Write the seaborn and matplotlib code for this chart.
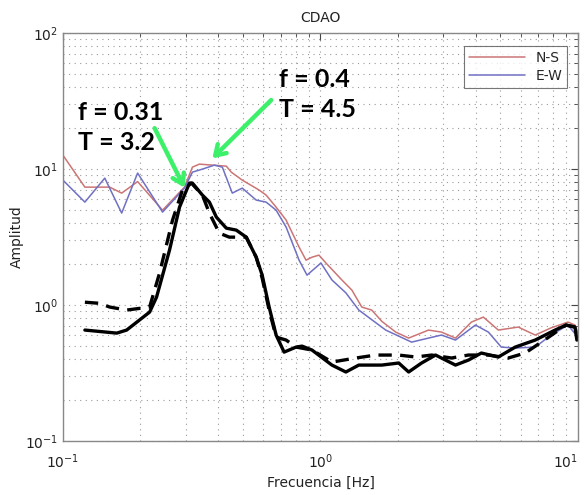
import numpy as np
import pandas as pd
import matplotlib
matplotlib.use("Agg")
import matplotlib.pyplot as plt
import seaborn as sns
from matplotlib.ticker import LogLocator, NullFormatter

# ---------------- data ----------------
ns_freq = [0.1, 0.1217, 0.152, 0.1691, 0.195, 0.2437, 0.2965, 0.3183, 0.3388, 0.4309,
           0.4506, 0.497, 0.5782, 0.6153, 0.6728, 0.7355, 0.826, 0.8788, 0.9271, 0.9867,
           1.05, 1.211, 1.324, 1.447, 1.582, 1.73, 1.96, 2.2, 2.629, 2.951, 3.344, 3.856,
           4.291, 4.904, 5.861, 6.82, 7.863, 9.149, 9.737, 10.0]
ns_amp = [12.67, 7.37, 7.37, 6.66, 8.1, 4.99, 7.37, 10.34, 10.88, 10.52,
          9.5, 8.3, 7.01, 6.44, 5.25, 4.22, 2.67, 2.14, 2.25, 2.33,
          2.04, 1.53, 1.29, 0.967, 0.919, 0.76, 0.633, 0.572, 0.655, 0.633, 0.572, 0.75,
          0.816, 0.655, 0.689, 0.602, 0.68, 0.75, 0.713, 0.62]

ew_freq = [0.1, 0.1217, 0.1454, 0.1691, 0.195, 0.2437, 0.2965, 0.3183, 0.348, 0.3873,
           0.4159, 0.4546, 0.497, 0.563, 0.6153, 0.6728, 0.7355, 0.826, 0.8867, 1.0044,
           1.108, 1.255, 1.409, 1.792, 2.259, 2.629, 2.951, 3.344, 3.996, 4.487,
           5.037, 5.706, 6.82, 7.863, 9.149, 9.824, 10.0]
ew_amp = [8.3, 5.72, 8.59, 4.75, 9.35, 4.83, 7.25, 9.5, 10.0, 10.7,
          10.34, 6.66, 7.25, 5.92, 5.72, 4.99, 3.75, 2.14, 1.66, 2.04,
          1.53, 1.23, 0.919, 0.655, 0.534, 0.572, 0.602, 0.553, 0.713, 0.633,
          0.491, 0.483, 0.491, 0.602, 0.713, 0.602, 0.56]

solid_freq = [0.1217, 0.1618, 0.1768, 0.2171, 0.231, 0.2594, 0.2836, 0.3099, 0.3183, 0.348,
              0.3704, 0.3942, 0.4309, 0.4711, 0.515, 0.563, 0.5939, 0.632, 0.6728, 0.7225,
              0.8043, 0.8483, 0.9271, 1.108, 1.255, 1.409, 1.73, 2.013, 2.2, 2.47,
              2.798, 3.344, 3.754, 4.215, 4.904, 5.706, 6.82, 8.147, 8.985, 9.737, 9.9]
solid_amp = [0.655, 0.622, 0.655, 0.888, 1.145, 2.54, 5.25, 7.89, 7.89, 6.44,
             5.72, 4.44, 3.68, 3.56, 3.16, 2.25, 1.66, 0.967, 0.602, 0.451,
             0.491, 0.499, 0.467, 0.362, 0.322, 0.362, 0.362, 0.375, 0.322, 0.375,
             0.429, 0.362, 0.394, 0.444, 0.415, 0.491, 0.553, 0.655, 0.713, 0.689, 0.553]

dash_freq = [0.1217, 0.139, 0.152, 0.1768, 0.2171, 0.2373, 0.2665, 0.2912, 0.3155, 0.348,
             0.3704, 0.4049, 0.4426, 0.515, 0.563, 0.5939, 0.632, 0.6728, 0.7355, 0.8043,
             0.9271, 1.108, 1.372, 1.64, 2.013, 2.341, 2.7, 3.227, 3.754, 4.487,
             5.361, 6.237, 7.6, 8.985, 9.737]
dash_amp = [1.05, 1.03, 0.967, 0.919, 0.967, 1.72, 4.22, 7.01, 7.89, 6.44,
            4.75, 3.38, 3.16, 3.16, 2.25, 1.58, 0.919, 0.582, 0.553, 0.491,
            0.467, 0.381, 0.408, 0.429, 0.429, 0.415, 0.429, 0.408, 0.429, 0.429,
            0.408, 0.444, 0.572, 0.713, 0.689]

series_labels = ["N-S", "E-W"]
title = "CDAO"
xlabel = "Frecuencia [Hz]"
ylabel = "Amplitud"
ann1_text = "f = 0.31\nT = 3.2"
ann2_text = "f = 0.4\nT = 4.5"
ann1_tip, ann1_tail, ann1_pos = (0.2965, 7.3), (0.227, 20.0), (0.1143, 31.5)
ann2_tip, ann2_tail, ann2_pos = (0.3804, 12.0), (0.6436, 32.2), (0.691, 55.0)

# ---------------- plot ----------------
sns.set_style("white")
plt.rcParams['font.family'] = ['DejaVu Sans']

fig = plt.figure(figsize=(5.88, 4.95), dpi=100)
ax = fig.add_axes([0.107, 0.109, 0.876, 0.824])

red = "#cc7575"
blue = "#7070c4"

df_ns = pd.DataFrame({"f": ns_freq, "a": ns_amp})
df_ew = pd.DataFrame({"f": ew_freq, "a": ew_amp})
df_s = pd.DataFrame({"f": solid_freq, "a": solid_amp})
df_d = pd.DataFrame({"f": dash_freq, "a": dash_amp})

sns.lineplot(data=df_ns, x="f", y="a", ax=ax, color=red, lw=1.1, label=series_labels[0],
             estimator=None, sort=False)
sns.lineplot(data=df_ew, x="f", y="a", ax=ax, color=blue, lw=1.1, label=series_labels[1],
             estimator=None, sort=False)
sns.lineplot(data=df_d, x="f", y="a", ax=ax, color="black", lw=2.4, estimator=None,
             sort=False, legend=False, linestyle=(0, (4, 2.5)))
sns.lineplot(data=df_s, x="f", y="a", ax=ax, color="black", lw=2.4, estimator=None,
             sort=False, legend=False)

ax.set_xscale("log")
ax.set_yscale("log")

leg = ax.legend(loc="upper right", fontsize=10, frameon=True, fancybox=False,
                handlelength=4, borderpad=0.35, labelspacing=0.3,
                bbox_to_anchor=(0.993, 0.985))
leg.get_frame().set_edgecolor("#555555")
leg.get_frame().set_linewidth(0.8)

green = "#3df06a"
for tip, tail in [(ann1_tip, ann1_tail), (ann2_tip, ann2_tail)]:
    ax.annotate("", xy=tip, xytext=tail,
                arrowprops=dict(arrowstyle="->,head_length=0.7,head_width=0.45",
                                color=green, lw=3.2, shrinkA=0, shrinkB=0))
for pos, txt in [(ann1_pos, ann1_text), (ann2_pos, ann2_text)]:
    ax.text(pos[0], pos[1], txt, fontsize=18, fontweight="bold", family=["Lato", "DejaVu Sans"],
            ha="left", va="top", linespacing=1.35, color="black")

ax.set_xlim(0.1, 10)
ax.set_ylim(0.1, 100)
ax.set_autoscale_on(False)

ax.xaxis.set_major_locator(LogLocator(base=10, numticks=10))
ax.yaxis.set_major_locator(LogLocator(base=10, numticks=10))
ax.xaxis.set_minor_locator(LogLocator(base=10, subs=np.arange(2, 10), numticks=20))
ax.yaxis.set_minor_locator(LogLocator(base=10, subs=np.arange(2, 10), numticks=20))
ax.xaxis.set_minor_formatter(NullFormatter())
ax.yaxis.set_minor_formatter(NullFormatter())

ax.grid(True, which="both", linestyle=(0, (1, 4)), color="#9a9a9a", lw=0.8)
ax.tick_params(which="both", direction="in", top=True, right=True, colors="#444444",
               labelcolor="#222222", labelsize=10)
ax.tick_params(which="major", length=5)
ax.tick_params(which="minor", length=3)
ax.tick_params(axis="x", pad=8)
for s in ax.spines.values():
    s.set_color("#888888")
    s.set_linewidth(1.0)

ax.set_title(title, fontsize=10, color="#222222", pad=8)
ax.set_xlabel(xlabel, fontsize=10, color="#222222", labelpad=4)
ax.set_ylabel(ylabel, fontsize=10, color="#222222", labelpad=1)

# keep the last x tick label inside the figure
fig.canvas.draw()
for tick in ax.xaxis.get_major_ticks():
    if abs(tick.get_loc() - 10) < 1e-6:
        tick.label1.set_horizontalalignment("right")

fig.savefig("out.png", dpi=100)
